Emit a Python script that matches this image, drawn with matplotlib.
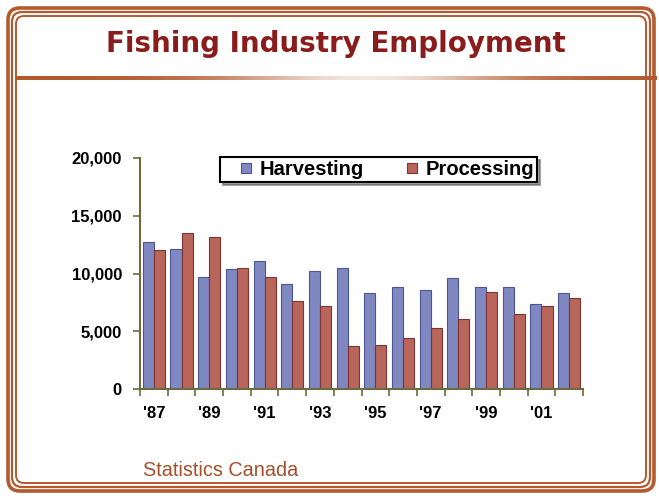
import numpy as np
import matplotlib.pyplot as plt
from matplotlib.patches import FancyBboxPatch, Rectangle
from matplotlib.legend_handler import HandlerPatch

# Fishing industry employment, 1987-2002 (Statistics Canada)
years = ["'87", "'88", "'89", "'90", "'91", "'92", "'93", "'94",
         "'95", "'96", "'97", "'98", "'99", "'00", "'01", "'02"]
harvesting = [12700, 12100, 9700, 10400, 11100, 9100, 10200, 10500,
              8300, 8800, 8600, 9600, 8800, 8800, 7400, 8300]
processing = [12000, 13500, 13200, 10450, 9700, 7600, 7200, 3700,
              3850, 4400, 5300, 6100, 8400, 6500, 7200, 7900]
yticks = [0, 5000, 10000, 15000, 20000]

brown = "#b35a2e"
h_fc, h_ec = "#7f88c0", "#4a5592"
p_fc, p_ec = "#b8665c", "#7c3530"
W, H = 659, 501
fig = plt.figure(figsize=(W / 100, H / 100), dpi=100)

# background layer in pixel coordinates
bg = fig.add_axes([0, 0, 1, 1])
bg.set_xlim(0, W)
bg.set_ylim(H, 0)
bg.axis("off")

for off, lw in [(8, 2.6), (12, 1.6), (16, 1.4)]:
    box = FancyBboxPatch((off, off), W - 2 * off + 3, H - 2 * off - 2,
                         boxstyle="round,pad=0,rounding_size=%d" % (16 - off // 2),
                         fill=False, ec=brown, lw=lw)
    bg.add_patch(box)

# title underline with fading centre
xs = np.linspace(0, 1, 400)
alpha = 1 - 0.85 * np.exp(-((xs - 0.55) / 0.22) ** 2)
grad = np.zeros((1, 400, 4))
grad[..., 0], grad[..., 1], grad[..., 2] = 0.70, 0.35, 0.18
grad[..., 3] = alpha
bg.imshow(grad, extent=(16, 657, 80, 76), aspect="auto", zorder=1)

bg.text(336, 44, "Fishing Industry Employment", ha="center", va="center",
        fontsize=20, fontweight="bold", color="#8b1c1c", family="DejaVu Sans")
bg.text(143, 471, "Statistics Canada", ha="left", va="center",
        fontsize=14.3, color="#a5502a", family="Liberation Sans")

# chart
ax = fig.add_axes([140 / W, (H - 389) / H, (583 - 140) / W, (389 - 158) / H])
x = np.arange(len(years))
w = 0.4
ax.bar(x - w / 2, harvesting, w, color=h_fc, edgecolor=h_ec, lw=0.8)
ax.bar(x + w / 2, processing, w, color=p_fc, edgecolor=p_ec, lw=0.8)

ax.set_xlim(-0.5, len(years) - 0.5)
ax.set_ylim(0, 20000)
axc = "#6b6b40"
for s in ["top", "right"]:
    ax.spines[s].set_visible(False)
for s in ["left", "bottom"]:
    ax.spines[s].set_color(axc)
    ax.spines[s].set_linewidth(1.5)

ax.set_yticks(yticks)
ax.set_yticklabels([f"{v:,}" for v in yticks], fontsize=12, fontweight="bold",
                   family="Liberation Sans")
ax.tick_params(axis="y", length=5, width=1.2, color=axc, pad=8)

ax.set_xticks(x[::2])
ax.set_xticklabels(years[::2], fontsize=12, fontweight="bold", family="Liberation Sans")
ax.tick_params(axis="x", which="major", length=0, pad=12)
ax.set_xticks(np.arange(-0.5, len(years)), minor=True)
ax.tick_params(axis="x", which="minor", length=5, width=1.2, color=axc)


# small legend square pushed to the right end of the handle box
def right_square(legend, orig_handle, xdescent, ydescent, width, height, fontsize):
    s = height * 0.7
    return Rectangle((width - s - xdescent, -ydescent + (height - s) / 2), s, s)


handles = [Rectangle((0, 0), 1, 1, fc=h_fc, ec=h_ec, lw=0.8),
           Rectangle((0, 0), 1, 1, fc=p_fc, ec=p_ec, lw=0.8)]
leg = ax.legend(handles, ["Harvesting", "Processing"],
                loc="upper left", bbox_to_anchor=(0.18, 1.005), ncol=2,
                frameon=True, fancybox=False, shadow=True, handlelength=1.4,
                handleheight=0.7, handletextpad=0.45, columnspacing=1.2,
                borderpad=0.15, borderaxespad=0,
                handler_map={Rectangle: HandlerPatch(patch_func=right_square)},
                prop={"family": "Liberation Sans", "weight": "bold", "size": 14.5})
leg.get_frame().set_edgecolor("black")
leg.get_frame().set_linewidth(1.5)

fig.savefig("out.png", dpi=100)
